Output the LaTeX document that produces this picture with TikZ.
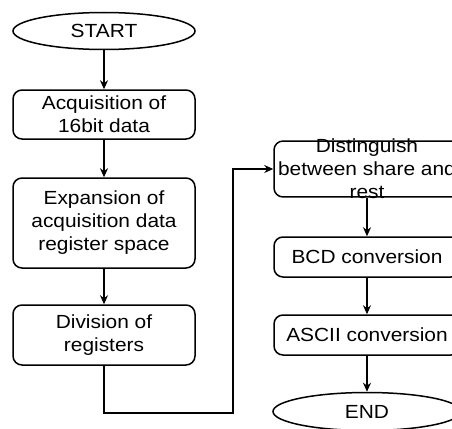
\documentclass[tikz,border=0pt]{standalone}
\usepackage{fontspec}
\setmainfont{Liberation Sans}[FakeStretch=1.1]
\usetikzlibrary{shapes.geometric,arrows.meta}
\tikzstyle{term}=[ellipse,draw,line width=1.5pt,minimum width=182pt,minimum height=37pt,inner sep=0pt,font=\fontsize{19}{23}\selectfont]
\tikzstyle{proc}=[rectangle,rounded corners=9pt,draw,line width=1.5pt,minimum width=182pt,inner sep=0pt,align=center,font=\fontsize{19}{23}\selectfont]
\tikzstyle{link}=[draw,line width=1.5pt]

\begin{document}
\begin{tikzpicture}[x=1pt,y=-1pt,>={Stealth[length=9pt,width=8pt]}]
  \useasboundingbox (0,0) rectangle (452,428);
  \path (104,31) node[term] (start) {START}
      ++ (0,83.5) node[proc,minimum height=49pt] (acq) {Acquisition of\\16bit data} edge[link,<-] (start)
      ++ (0,108.5) node[proc,minimum height=90pt] (exp) {Expansion of\\acquisition data\\register space} edge[link,<-] (acq)
      ++ (0,112) node[proc,minimum height=60pt] (div) {Division of\\registers} edge[link,<-] (exp)
      ++ (263,-166) node[proc,minimum width=186pt,inner ysep=-2pt] (dist) {Distinguish\\between share and\\rest}
      ++ (0,88) node[proc,minimum width=186pt,minimum height=40pt] (bcd) {BCD conversion} edge[link,<-] (dist)
      ++ (0,78) node[proc,minimum width=186pt,minimum height=40pt] (ascii) {ASCII conversion} edge[link,<-] (bcd)
      ++ (0,76.5) node[term,minimum width=188pt,minimum height=38pt] (end) {END} edge[link,<-] (ascii);
  \coordinate (turn) at (233,413);
  \draw[link,->] (div.south) |- (turn) |- (dist.west);
\end{tikzpicture}
\end{document}
